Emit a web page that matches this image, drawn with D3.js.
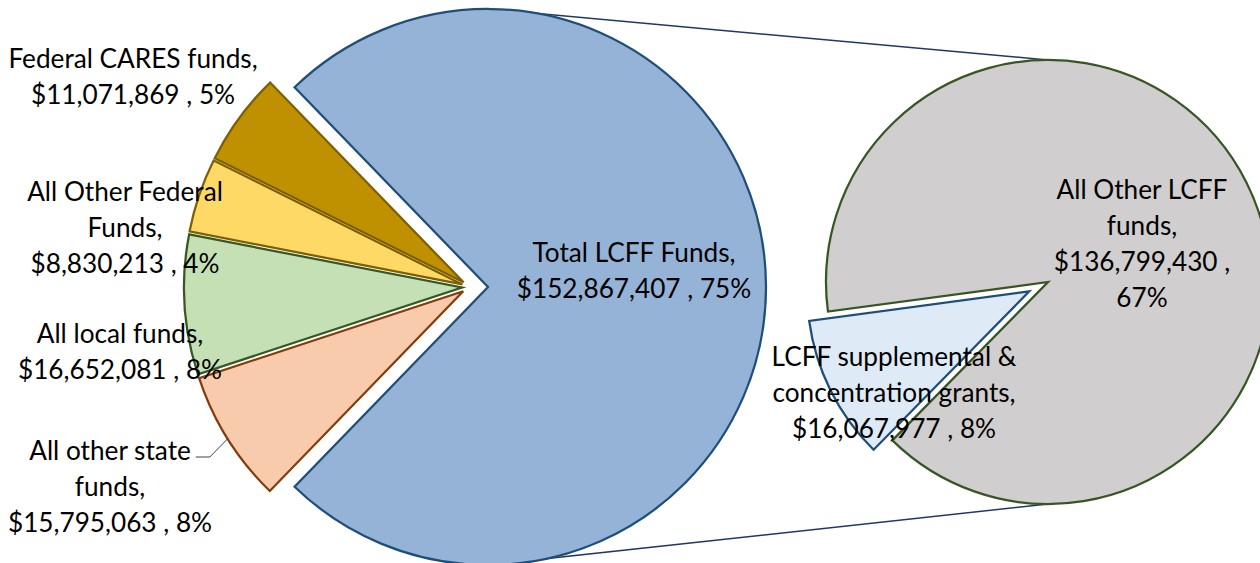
<!DOCTYPE html>
<html>
<head>
<meta charset="utf-8">
<script src="https://cdn.jsdelivr.net/npm/d3@7"></script>
<style>
  body { margin: 0; background: #fff; }
  .lbl { font-family: Lato, "Open Sans", sans-serif; font-size: 26.2px; fill: #000; }
</style>
</head>
<body>
<div id="chart"></div>
<script>
// main pie, clockwise starting at the top edge of the LCFF slice
const mainNames = ["Total LCFF Funds", "All other state\nfunds", "All local funds", "All Other Federal\nFunds", "Federal CARES funds"];
const mainValues = [152867407, 15795063, 16652081, 8830213, 11071869];
const mainPercents = [75, 8, 8, 4, 5];

// secondary pie (split of Total LCFF Funds)
const subNames = ["LCFF supplemental &\nconcentration grants", "All Other LCFF\nfunds"];
const subValues = [16067977, 136799430];
const subPercents = [8, 67];

const mainFill = ["#95B3D7", "#F8CBAD", "#C5E0B4", "#FFD966", "#BF9000"];
const mainStroke = ["#1F4E79", "#843C0C", "#385723", "#7F6000", "#7F6000"];
const subFill = ["#DEEBF7", "#D0CECE"];
const subStroke = ["#1F4E79", "#375623"];

const width = 1260, height = 563;
const lineH = 36;

const svg = d3.select("#chart").append("svg")
    .attr("width", width)
    .attr("height", height);

const fmt = d3.format(",");

// ---- geometry
const main = {cx: 470, cy: 287, r: 278};
const sub = {cx: 1048, cy: 282, r: 222};
const mainExplode = [18, 8, 8, 8, 8];
const subExplode = [21, 0];

let mainTotal = d3.sum(mainValues);
let otherFrac = mainValues[0] / mainTotal;
let mainStart = Math.PI / 2 - otherFrac * Math.PI;

let mainPie = d3.pie().sort(null).value(d => d)
    .startAngle(mainStart).endAngle(mainStart + 2 * Math.PI);
let subStart = 224.5 * Math.PI / 180;
let subPie = d3.pie().sort(null).value(d => d)
    .startAngle(subStart).endAngle(subStart + 2 * Math.PI);

let mainArcs = mainPie(mainValues);
let subArcs = subPie(subValues);

function offset(a, dist) {
    let m = (a.startAngle + a.endAngle) / 2;
    return [Math.sin(m) * dist, -Math.cos(m) * dist];
}

// connector lines between the two pies
let otherOff = offset(mainArcs[0], mainExplode[0]);
let ox = main.cx + otherOff[0], oy = main.cy + otherOff[1];
svg.append("g").selectAll("line")
    .data([-1, 1])
    .join("line")
    .attr("x1", ox)
    .attr("y1", d => oy + d * main.r)
    .attr("x2", sub.cx)
    .attr("y2", d => sub.cy + d * sub.r)
    .attr("stroke", "#1F3864")
    .attr("stroke-width", 1.5);

// main pie
let mainArc = d3.arc().innerRadius(0).outerRadius(main.r);
svg.append("g").selectAll("path")
    .data(mainArcs)
    .join("path")
    .attr("d", mainArc)
    .attr("transform", (d, i) => {
        let o = offset(d, mainExplode[i]);
        return `translate(${main.cx + o[0]},${main.cy + o[1]})`;
    })
    .attr("fill", (d, i) => mainFill[i])
    .attr("stroke", (d, i) => mainStroke[i])
    .attr("stroke-width", 2.25)
    .attr("stroke-linejoin", "miter");

// secondary pie (big slice first so the exploded slice sits on top)
let subArc = d3.arc().innerRadius(0).outerRadius(sub.r);
svg.append("g").selectAll("path")
    .data(subArcs.slice().reverse())
    .join("path")
    .attr("d", subArc)
    .attr("transform", d => {
        let o = offset(d, subExplode[d.index]);
        return `translate(${sub.cx + o[0]},${sub.cy + o[1]})`;
    })
    .attr("fill", d => subFill[d.index])
    .attr("stroke", d => subStroke[d.index])
    .attr("stroke-width", 2.25);

// ---- labels (x = centre, y = first baseline)
const mainLabelPos = [[634, 262], [110, 460], [120, 343], [125, 201], [133, 68]];
const subLabelPos = [[894, 366], [1142, 199]];

function labelLines(name, value, pct, breakValue) {
    let lines = (name + ",").split("\n");
    if (breakValue) {
        lines.push("$" + fmt(value) + " ,");
        lines.push(pct + "%");
    } else {
        lines.push("$" + fmt(value) + " , " + pct + "%");
    }
    return lines;
}

function drawLabel(lines, pos) {
    let t = svg.append("text")
        .attr("class", "lbl")
        .attr("text-anchor", "middle");
    lines.forEach((l, k) => {
        t.append("tspan")
            .attr("x", pos[0])
            .attr("y", pos[1] + k * lineH)
            .text(l);
    });
    return t;
}

let mainLabels = mainNames.map((n, i) =>
    drawLabel(labelLines(n, mainValues[i], mainPercents[i], false), mainLabelPos[i]));
subNames.forEach((n, i) =>
    drawLabel(labelLines(n, subValues[i], subPercents[i], i === 1), subLabelPos[i]));

// leader line for "All other state funds"
let st = mainLabels[1].select("tspan").node().getBBox();
let sa = mainArcs[1];
let so = offset(sa, mainExplode[1]);
let sm = (sa.startAngle + sa.endAngle) / 2;
let ex = main.cx + so[0] + Math.sin(sm) * main.r;
let ey = main.cy + so[1] - Math.cos(sm) * main.r;
let sx = st.x + st.width + 5;
let sy = mainLabelPos[1][1] - 3;
svg.append("polyline")
    .attr("points", [[sx, sy], [sx + 14, sy], [ex, ey]].map(p => p.join(",")).join(" "))
    .attr("fill", "none")
    .attr("stroke", "#404040")
    .attr("stroke-width", 1);
</script>
</body>
</html>
